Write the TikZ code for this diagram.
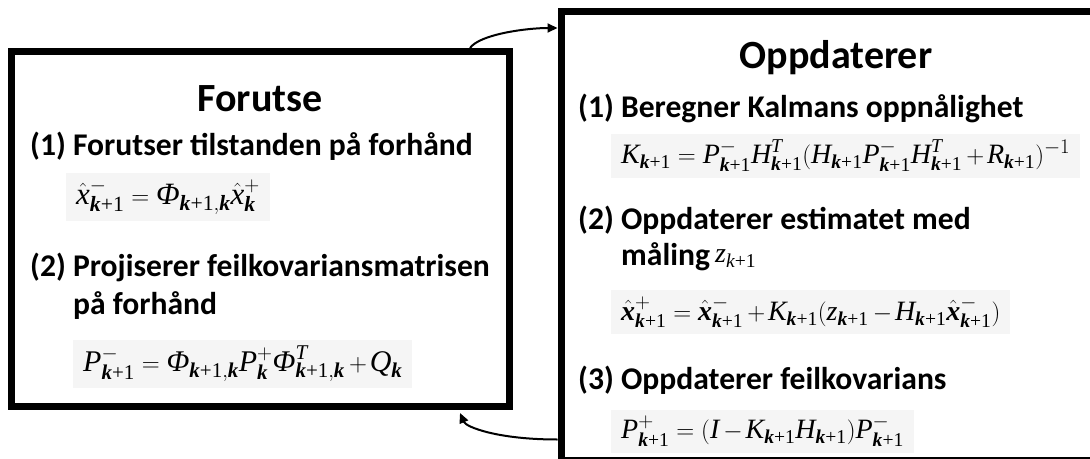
\documentclass[tikz,border=0pt]{standalone}
\usepackage{amsmath}
\usepackage[no-math]{fontspec}
\setmainfont{Carlito}
\newfontfamily\tms{Liberation Serif}
\usetikzlibrary{arrows.meta,calc}
\definecolor{fbg}{RGB}{245,245,245}
\newcommand{\mi}[1]{\text{\tms\itshape #1}}
\newcommand{\mbi}[1]{\text{\tms\bfseries\itshape #1}}
\newcommand{\kp}{\text{\tms{\bfseries\itshape k}+1}}
\newcommand{\kb}{\mbi{k}}
\newcommand{\tp}{\mskip3mu{+}\mskip2mu}
\newcommand{\tm}{\mskip3mu{-}\mskip2mu}
\begin{document}
\begin{tikzpicture}[x=1pt,y=-1pt,
  box/.style={draw=black,line width=7pt,inner sep=0pt,fill=white},
  ttl/.style={font=\fontsize{40}{48}\selectfont\bfseries,anchor=base,inner sep=0pt},
  itm/.style={font=\fontsize{31.6}{38}\selectfont\bfseries,anchor=base west,inner sep=0pt},
  fml/.style={fill=fbg,anchor=base west,inner xsep=10pt,inner ysep=6pt},
  fl/.style={fml,font=\fontsize{31}{37}\selectfont},
  fr/.style={fml,font=\fontsize{28}{34}\selectfont},
  arr/.style={line width=2pt,-{Triangle[length=10pt,width=9pt]}}]
\useasboundingbox (0,0) rectangle (1090,458);
\clip (0,0) rectangle (1090,458);
% boxes
\node[box,minimum width=498.5pt,minimum height=355pt] (L) at (260.25,229) {};
\node[box,minimum width=539pt,minimum height=448.5pt] (R) at (830.5,235.75) {};
% left content
\node[ttl] (lt) at (260,111) {Forutse};
\node[itm] (l1) at (30,155) {(1) Forutser tilstanden på forhånd};
\node[fl] (lf1) at (66,204) {$\hat{\mi{x}}^{-}_{\kp} = \mi{Φ}_{\kp,\kb}\hat{\mi{x}}^{+}_{\kb}$};
\node[itm] (l2) at (30,276) {(2) Projiserer feilkovariansmatrisen};
\node[itm] (l2b) at (73,314) {på forhånd};
\node[fl,font=\fontsize{30}{36}\selectfont] (lf2) at (73,371) {$\mi{P}^{-}_{\kp} = \mi{Φ}_{\kp,\kb}\mi{P}^{+}_{\kb}\mi{Φ}^{\mi{T}}_{\kp,\kb}\tp\mi{Q}_{\kb}$};
% right content
\node[ttl] (rt) at (836,68) {Oppdaterer};
\node[itm] (r1) at (578,117) {(1) Beregner Kalmans oppnålighet};
\node[fr] (rf1) at (611,163) {$\mi{K}_{\kp} = \mi{P}^{-}_{\kp}\mi{H}^{\mi{T}}_{\kp}(\mi{H}_{\kp}\mi{P}^{-}_{\kp}\mi{H}^{\mi{T}}_{\kp}\tp\mi{R}_{\kp})^{-1}$};
\node[itm] (r2) at (578,229) {(2) Oppdaterer estimatet med};
\node[itm] (r2b) at (621,265) {måling};
\node[anchor=base west,inner sep=0pt,font=\fontsize{28}{32}\selectfont] (rz) at (715,262) {$\mi{z}_{\mi{k}\text{\tms +1}}$};
\node[fr] (rf2) at (611,320) {$\hat{\mbi{x}}^{+}_{\kp} = \hat{\mbi{x}}^{-}_{\kp}\tp\mi{K}_{\kp}(\mi{z}_{\kp}\tm\mi{H}_{\kp}\hat{\mbi{x}}^{-}_{\kp})$};
\node[itm] (r3) at (578,389) {(3) Oppdaterer feilkovarians};
\node[fr] (rf3) at (611,438) {$\mi{P}^{+}_{\kp} = (\mi{I}\tm\mi{K}_{\kp}\mi{H}_{\kp})\mi{P}^{-}_{\kp}$};
% connectors
\coordinate (a1) at ([xshift=-43pt]L.north east);
\coordinate (a2) at ([yshift=-20pt]R.north west);
\draw[arr] (a1) .. controls ([xshift=10pt,yshift=14pt]a1) and ([xshift=-30pt]a2) .. (a2);
\coordinate (b1) at ([yshift=24pt]R.south west);
\coordinate (b2) at ([xshift=-53pt,yshift=-3pt]L.south east);
\draw[arr] (b1) .. controls ([xshift=-60pt]b1) and ([xshift=6pt,yshift=-14pt]b2) .. (b2);
\end{tikzpicture}
\end{document}
